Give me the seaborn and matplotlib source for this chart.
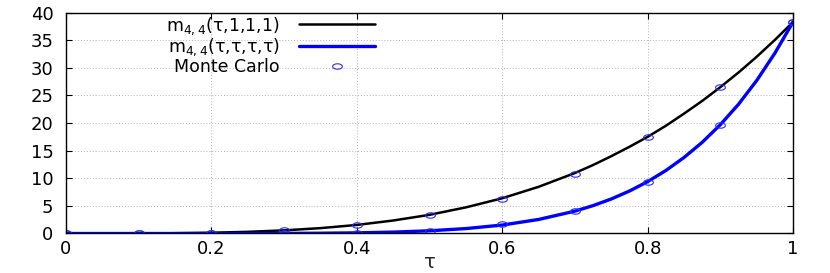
import numpy as np
import matplotlib
matplotlib.use("Agg")
import matplotlib.pyplot as plt
import seaborn as sns
from matplotlib.path import Path

# curve values
tau = [0.0, 0.05, 0.1, 0.15, 0.2, 0.25, 0.3, 0.35, 0.4, 0.45, 0.5, 0.55, 0.6, 0.65,
       0.7, 0.725, 0.75, 0.775, 0.8, 0.825, 0.85, 0.875, 0.9, 0.925, 0.95, 0.975, 1.0]
m_t111 = [0.0, 0.0, 0.01, 0.05, 0.14, 0.30, 0.57, 0.97, 1.55, 2.35, 3.38, 4.73, 6.38, 8.45,
          10.95, 12.4, 14.0, 15.7, 17.5, 19.5, 21.7, 24.0, 26.5, 29.15, 32.0, 35.05, 38.3]
m_tttt = [0.0, 0.0, 0.0, 0.0, 0.0, 0.01, 0.02, 0.05, 0.12, 0.25, 0.49, 0.89, 1.53, 2.54,
          4.05, 5.05, 6.25, 7.69, 9.39, 11.4, 13.76, 16.5, 19.7, 23.4, 27.7, 32.65, 38.3]

# Monte Carlo estimates
mc_tau = [0.0, 0.1, 0.2, 0.3, 0.4, 0.5, 0.6, 0.7, 0.8, 0.9, 1.0]
mc_t111 = [0.0, 0.01, 0.14, 0.6, 1.55, 3.35, 6.3, 10.85, 17.4, 26.6, 38.3]
mc_tttt = [0.0, 0.0, 0.01, 0.02, 0.12, 0.5, 1.65, 4.1, 9.4, 19.6, 38.3]

sns.set_style("ticks")
plt.rcParams['font.family'] = ['DejaVu Sans']
plt.rcParams['text.color'] = 'black'

fig = plt.figure(figsize=(8.3, 2.73), dpi=100)
ax = fig.add_axes([0.0795, 0.1447, 0.876, 0.8093])

# flat ellipse marker like in the original
t = np.linspace(0, 2 * np.pi, 41)
ellipse = Path(np.column_stack([1.8 * np.cos(t), np.sin(t)]))

sns.lineplot(x=tau, y=m_t111, ax=ax, color='black', lw=1.8, sort=False,
             label=r'm$_{4,4}$(τ,1,1,1)')
sns.lineplot(x=tau, y=m_tttt, ax=ax, color='#0000ff', lw=2.4, sort=False,
             label=r'm$_{4,4}$(τ,τ,τ,τ)')
sns.lineplot(x=mc_tau, y=mc_t111, ax=ax, linestyle='', marker=ellipse, ms=7,
             mfc='none', mec='#2a2aff', mew=0.8, color='#2a2aff', label='Monte Carlo')
sns.lineplot(x=mc_tau, y=mc_tttt, ax=ax, linestyle='', marker=ellipse, ms=7,
             mfc='none', mec='#2a2aff', mew=0.8, color='#2a2aff', legend=False)

ax.set_xlim(0, 1)
ax.set_ylim(0, 40)
ax.set_xticks([0, 0.2, 0.4, 0.6, 0.8, 1])
ax.set_xticklabels(['0', '0.2', '0.4', '0.6', '0.8', '1'])
ax.set_yticks(range(0, 41, 5))
ax.tick_params(direction='in', length=4.5, width=0.8, top=True, right=True,
               labelsize=13, colors='black')
ax.tick_params(axis='y', pad=9)
ax.tick_params(axis='x', pad=5)
ax.grid(True, linestyle=(0, (1, 2)), color='#b4b4b4', lw=0.7)
for s in ax.spines.values():
    s.set_linewidth(1.0)
    s.set_color('black')
ax.set_xlabel('τ', fontsize=14, labelpad=-4)
ax.set_ylabel('')

h, l = ax.get_legend_handles_labels()
ax.legend(h, l, loc='upper right', bbox_to_anchor=(0.447, 1.06), frameon=False,
          markerfirst=False, handlelength=4.4, handletextpad=1.1, labelspacing=0.0,
          fontsize=12.5)

fig.savefig('out.png', dpi=100)
